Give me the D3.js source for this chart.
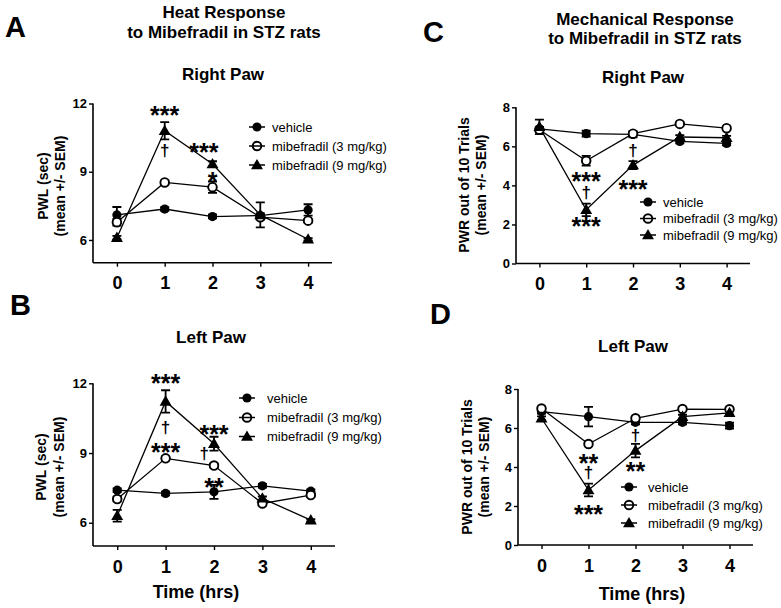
<!DOCTYPE html>
<html><head><meta charset="utf-8">
<script src="https://cdnjs.cloudflare.com/ajax/libs/d3/7.8.5/d3.min.js"></script>
<style>
html,body{margin:0;padding:0;background:#fff;}
svg{display:block;font-family:"Liberation Sans",Arial,Helvetica,sans-serif;}
</style></head>
<body>
<svg id="chart" width="781" height="608"></svg>
<script>
// ---------- data ----------
const times = [0, 1, 2, 3, 4];
const seriesNames = ["vehicle", "mibefradil (3 mg/kg)", "mibefradil (9 mg/kg)"];

// Panel A: heat, right paw (PWL sec)
const heatRightVehicle = [7.1, 7.36, 7.03, 7.07, 7.32];
const heatRightVehicleSem = [0.35, 0.08, 0.08, 0.1, 0.25];
const heatRightLow = [6.78, 8.53, 8.32, 7.0, 6.85];
const heatRightLowSem = [0.15, 0.08, 0.25, 0.1, 0.08];
const heatRightHigh = [6.1, 10.8, 9.34, 7.1, 6.03];
const heatRightHighSem = [0.08, 0.38, 0.12, 0.55, 0.05];
const heatRightMarks = [[1, 11.71, "***"], [1, 9.95, "†"], [1.82, 10.08, "***"], [2, 8.8, "*"]];

// Panel B: heat, left paw (PWL sec)
const heatLeftVehicle = [7.4, 7.26, 7.33, 7.59, 7.36];
const heatLeftVehicleSem = [0.08, 0.08, 0.3, 0.08, 0.08];
const heatLeftLow = [7.02, 8.77, 8.46, 6.83, 7.19];
const heatLeftLowSem = [0.1, 0.08, 0.08, 0.08, 0.08];
const heatLeftHigh = [6.3, 11.22, 9.4, 7.05, 6.11];
const heatLeftHighSem = [0.25, 0.48, 0.3, 0.08, 0.05];
const heatLeftMarks = [[1, 12.23, "***"], [1, 10.08, "†"], [1, 9.25, "***"], [2, 10.03, "***"], [1.8, 9.0, "†"], [2, 7.74, "**"]];

// Panel C: mechanical, right paw (PWR out of 10)
const mechRightVehicle = [6.9, 6.65, 6.61, 6.25, 6.15];
const mechRightVehicleSem = [0.1, 0.15, 0.15, 0.1, 0.1];
const mechRightLow = [6.85, 5.26, 6.65, 7.15, 6.93];
const mechRightLowSem = [0.1, 0.25, 0.1, 0.08, 0.08];
const mechRightHigh = [7.0, 2.75, 5.04, 6.48, 6.44];
const mechRightHighSem = [0.37, 0.32, 0.2, 0.1, 0.1];
const mechRightMarks = [[1, 4.49, "***"], [1, 3.62, "†"], [1, 2.18, "***"], [2, 5.77, "†"], [2, 4.08, "***"]];

// Panel D: mechanical, left paw (PWR out of 10)
const mechLeftVehicle = [6.84, 6.58, 6.29, 6.29, 6.12];
const mechLeftVehicleSem = [0.1, 0.5, 0.1, 0.1, 0.15];
const mechLeftLow = [7.0, 5.18, 6.5, 6.97, 6.96];
const mechLeftLowSem = [0.1, 0.08, 0.08, 0.08, 0.08];
const mechLeftHigh = [6.5, 2.82, 4.84, 6.58, 6.78];
const mechLeftHighSem = [0.1, 0.33, 0.35, 0.1, 0.1];
const mechLeftMarks = [[1, 4.46, "**"], [1, 3.74, "†"], [1, 1.85, "***"], [2, 5.64, "†"], [2, 4.05, "**"]];

const heatTicks = [6, 9, 12];
const mechTicks = [0, 2, 4, 6, 8];

// ---------- drawing ----------
const svg = d3.select("#chart");
const FONT = '"Liberation Sans",Arial,Helvetica,sans-serif';

function marker(g, type, x, y) {
  if (type === 0) {
    g.append("circle").attr("cx", x).attr("cy", y).attr("r", 4.6).attr("fill", "#000");
  } else if (type === 1) {
    g.append("circle").attr("cx", x).attr("cy", y).attr("r", 4.3)
      .attr("fill", "#fff").attr("stroke", "#000").attr("stroke-width", 1.9);
  } else {
    g.append("path").attr("d", d3.symbol(d3.symbolTriangle, 62)())
      .attr("transform", `translate(${x},${y + 0.8})`).attr("fill", "#000");
  }
}

function drawPanel(p) {
  const x = d3.scaleLinear().domain([-0.5, 4.5]).range([p.left, p.right]);
  const y = d3.scaleLinear().domain(p.yDomain).range([p.bottom, p.top]);
  const g = svg.append("g");

  // axes
  const ya = g.append("g").attr("transform", `translate(${p.left},0)`)
    .call(d3.axisLeft(y).tickValues(p.ticks).tickSize(4).tickPadding(2).tickFormat(d3.format("d")));
  ya.select(".domain").attr("d", `M0,${p.top}V${p.bottom}`).attr("stroke-width", 1.6);
  ya.selectAll(".tick line").attr("stroke-width", 1.4);
  ya.selectAll(".tick text").attr("font-size", 13).attr("font-weight", "bold").attr("font-family", FONT).attr("fill", "#000");

  const xa = g.append("g").attr("transform", `translate(0,${p.bottom})`)
    .call(d3.axisBottom(x).tickValues(times).tickSize(4).tickPadding(10).tickFormat(d3.format("d")));
  xa.select(".domain").attr("d", `M${p.left},0H${p.right}`).attr("stroke-width", 1.6);
  xa.selectAll(".tick line").attr("stroke-width", 1.4);
  xa.selectAll(".tick text").attr("font-size", 18).attr("font-weight", "bold").attr("font-family", FONT).attr("fill", "#000");

  // lines
  const line = d3.line().x((d, i) => x(times[i])).y(d => y(d));
  p.series.forEach(s => {
    g.append("path").attr("d", line(s.v)).attr("fill", "none").attr("stroke", "#000").attr("stroke-width", 1.3);
  });
  // error bars
  p.series.forEach(s => {
    s.v.forEach((v, i) => {
      const cx = x(times[i]), y1 = y(v + s.e[i]), y2 = y(v - s.e[i]);
      g.append("path").attr("d", `M${cx},${y1}V${y2}M${cx - 4.5},${y1}H${cx + 4.5}M${cx - 4.5},${y2}H${cx + 4.5}`)
        .attr("stroke", "#000").attr("stroke-width", 1.8).attr("fill", "none");
    });
  });
  // markers
  p.series.forEach((s, k) => {
    s.v.forEach((v, i) => marker(g, k, x(times[i]), y(v)));
  });

  // annotations
  p.marks.forEach(m => {
    const isStar = m[2].indexOf("*") >= 0;
    g.append("text").attr("x", x(m[0])).attr("y", y(m[1]) + (isStar ? 14 : 5.5))
      .attr("text-anchor", "middle").attr("font-family", FONT)
      .attr("font-size", isStar ? 25 : 17).attr("font-weight", "bold")
      .attr("fill", "#000").text(m[2]);
  });

  // legend
  seriesNames.forEach((name, k) => {
    const ly = p.legend.y[k];
    marker(g, k, p.legend.x, ly);
    g.append("line").attr("x1", p.legend.x - 8).attr("x2", p.legend.x + 8).attr("y1", ly).attr("y2", ly)
      .attr("stroke", "#000").attr("stroke-width", 1.5);
    g.append("text").attr("x", p.legend.tx).attr("y", ly + 4.6).attr("font-family", FONT)
      .attr("font-size", 13).attr("fill", "#000").text(name);
  });

  // y label
  p.ylabel.lines.forEach((t, k) => {
    g.append("text").attr("transform", `translate(${p.ylabel.x[k]},${p.ylabel.cy}) rotate(-90)`)
      .attr("text-anchor", "middle").attr("font-family", FONT).attr("font-size", 14).attr("font-weight", "bold")
      .attr("fill", "#000").text(t);
  });

  // subtitle
  g.append("text").attr("x", p.sub.x).attr("y", p.sub.y).attr("text-anchor", "middle")
    .attr("font-family", FONT).attr("font-size", 17).attr("font-weight", "bold").text(p.sub.text);

  // panel letter
  g.append("text").attr("x", p.letter.x).attr("y", p.letter.y).attr("font-family", FONT)
    .attr("font-size", 29).attr("font-weight", "bold").text(p.letter.text);

  if (p.xlabel) {
    g.append("text").attr("x", p.xlabel.x).attr("y", p.xlabel.y).attr("text-anchor", "middle")
      .attr("font-family", FONT).attr("font-size", 18).attr("font-weight", "bold").text("Time (hrs)");
  }
}

drawPanel({
  left: 93, right: 332, top: 103.5, bottom: 262.7, yDomain: [5, 12], ticks: heatTicks,
  series: [{v: heatRightVehicle, e: heatRightVehicleSem}, {v: heatRightLow, e: heatRightLowSem}, {v: heatRightHigh, e: heatRightHighSem}],
  marks: heatRightMarks,
  legend: {x: 257, tx: 272, y: [127, 146, 165]},
  ylabel: {lines: ["PWL (sec)", "(mean +/- SEM)"], x: [48, 65], cy: 186},
  sub: {text: "Right Paw", x: 223, y: 80},
  letter: {text: "A", x: 5, y: 37}
});
drawPanel({
  left: 93, right: 335, top: 383.3, bottom: 546, yDomain: [5, 12], ticks: heatTicks,
  series: [{v: heatLeftVehicle, e: heatLeftVehicleSem}, {v: heatLeftLow, e: heatLeftLowSem}, {v: heatLeftHigh, e: heatLeftHighSem}],
  marks: heatLeftMarks,
  legend: {x: 247, tx: 267, y: [398, 417.5, 436.5]},
  ylabel: {lines: ["PWL (sec)", "(mean +/- SEM)"], x: [46, 64], cy: 467},
  sub: {text: "Left Paw", x: 211, y: 343},
  letter: {text: "B", x: 10, y: 315},
  xlabel: {x: 196, y: 598}
});
drawPanel({
  left: 516, right: 750, top: 107.3, bottom: 263.5, yDomain: [0, 8], ticks: mechTicks,
  series: [{v: mechRightVehicle, e: mechRightVehicleSem}, {v: mechRightLow, e: mechRightLowSem}, {v: mechRightHigh, e: mechRightHighSem}],
  marks: mechRightMarks,
  legend: {x: 648, tx: 663, y: [202, 218.5, 235]},
  ylabel: {lines: ["PWR out of 10 Trials", "(mean +/- SEM)"], x: [469, 486], cy: 185},
  sub: {text: "Right Paw", x: 643, y: 83},
  letter: {text: "C", x: 423, y: 42}
});
drawPanel({
  left: 518, right: 753, top: 389, bottom: 545, yDomain: [0, 8], ticks: mechTicks,
  series: [{v: mechLeftVehicle, e: mechLeftVehicleSem}, {v: mechLeftLow, e: mechLeftLowSem}, {v: mechLeftHigh, e: mechLeftHighSem}],
  marks: mechLeftMarks,
  legend: {x: 629, tx: 648, y: [487, 505, 523]},
  ylabel: {lines: ["PWR out of 10 Trials", "(mean +/- SEM)"], x: [472, 489], cy: 467},
  sub: {text: "Left Paw", x: 633, y: 352},
  letter: {text: "D", x: 430, y: 324},
  xlabel: {x: 642, y: 600}
});

// main titles
[["Heat Response", 224, 18], ["to Mibefradil in STZ rats", 224, 38],
 ["Mechanical Response", 645, 25], ["to Mibefradil in STZ rats", 645, 44]].forEach(t => {
  svg.append("text").attr("x", t[1]).attr("y", t[2]).attr("text-anchor", "middle")
    .attr("font-family", FONT).attr("font-size", 17).attr("font-weight", "bold").text(t[0]);
});
</script>
</body></html>
